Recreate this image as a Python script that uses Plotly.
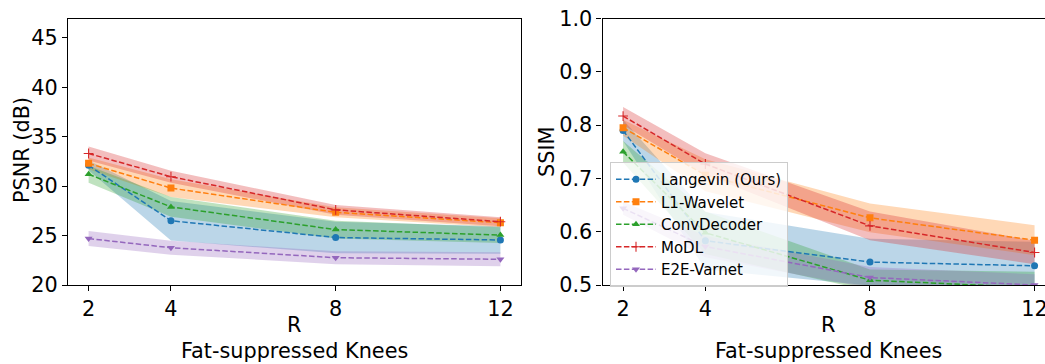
import plotly.graph_objects as go

R = [2, 4, 8, 12]
methods = ["Langevin (Ours)", "L1-Wavelet", "ConvDecoder", "MoDL", "E2E-Varnet"]
colors = ["31,119,180", "255,127,14", "44,160,44", "214,39,40", "148,103,189"]
symbols = ["circle", "square", "triangle-up", "cross-thin", "triangle-down"]

psnr_mean = {
    "Langevin (Ours)": [32.1, 26.5, 24.8, 24.55],
    "L1-Wavelet": [32.3, 29.8, 27.35, 26.3],
    "ConvDecoder": [31.2, 27.9, 25.6, 25.05],
    "MoDL": [33.3, 30.95, 27.6, 26.4],
    "E2E-Varnet": [24.7, 23.77, 22.76, 22.6],
}
psnr_std = {
    "Langevin (Ours)": [0.5, 2.0, 1.6, 1.4],
    "L1-Wavelet": [0.6, 0.9, 0.5, 0.45],
    "ConvDecoder": [0.85, 1.0, 0.9, 0.8],
    "MoDL": [0.7, 0.6, 0.5, 0.45],
    "E2E-Varnet": [0.75, 0.7, 0.65, 0.7],
}
ssim_mean = {
    "Langevin (Ours)": [0.79, 0.583, 0.543, 0.536],
    "L1-Wavelet": [0.795, 0.706, 0.626, 0.584],
    "ConvDecoder": [0.75, 0.598, 0.509, 0.495],
    "MoDL": [0.817, 0.727, 0.611, 0.561],
    "E2E-Varnet": [0.644, 0.572, 0.514, 0.5],
}
ssim_std = {
    "Langevin (Ours)": [0.02, 0.054, 0.044, 0.045],
    "L1-Wavelet": [0.015, 0.03, 0.027, 0.028],
    "ConvDecoder": [0.02, 0.04, 0.02, 0.03],
    "MoDL": [0.017, 0.02, 0.027, 0.022],
    "E2E-Varnet": [0.012, 0.02, 0.02, 0.02],
}

W, H = 1045, 364
fig = go.Figure()

def add_series(mean, std, xa, ya, show_legend):
    for m, c in zip(methods, colors):
        lo = [a - s for a, s in zip(mean[m], std[m])]
        hi = [a + s for a, s in zip(mean[m], std[m])]
        fig.add_trace(go.Scatter(
            x=R + R[::-1], y=hi + lo[::-1], fill="toself",
            fillcolor=f"rgba({c},0.3)", line=dict(width=0),
            mode="lines", hoverinfo="skip", showlegend=False,
            xaxis=xa, yaxis=ya))
    for m, c, s in zip(methods, colors, symbols):
        fig.add_trace(go.Scatter(
            x=R, y=mean[m], mode="lines+markers", name=m,
            line=dict(color=f"rgb({c})", width=1.5, dash="5.5px,2.4px"),
            marker=dict(symbol=s, size=7, color=f"rgb({c})",
                        line=dict(width=1.1 if s == "cross-thin" else 0, color=f"rgb({c})")),
            showlegend=show_legend, xaxis=xa, yaxis=ya))

add_series(psnr_mean, psnr_std, "x", "y", False)
add_series(ssim_mean, ssim_std, "x2", "y2", True)

font = dict(family="DejaVu Sans", size=20.8, color="black")
ydom = [(H - 285) / H, (H - 18.5) / H]
axis_common = dict(showline=True, linecolor="black", linewidth=1.2, ticks="outside",
                   ticklen=5, tickcolor="black", showgrid=False, zeroline=False,
                   tickfont=font, mirror=True, ticklabeloverflow="allow",
                   automargin=False)

fig.update_layout(
    width=W, height=H, margin=dict(l=0, r=0, t=0, b=0, autoexpand=False),
    paper_bgcolor="white", plot_bgcolor="white", font=font,
    xaxis=dict(domain=[68 / W, 521 / W], range=[1.5, 12.5], tickvals=R,
               anchor="y", **axis_common),
    yaxis=dict(domain=ydom, range=[20, 46.95], tickvals=[20, 25, 30, 35, 40, 45],
               anchor="x", **axis_common),
    xaxis2=dict(domain=[602.5 / W, 1.0], range=[1.5, 1.5 + (1045 - 602.5) / 41.15],
                tickvals=R, anchor="y2", **axis_common),
    yaxis2=dict(domain=ydom, range=[0.5, 1.0], tickvals=[0.5, 0.6, 0.7, 0.8, 0.9, 1.0],
                tickformat=".1f", anchor="x2", **axis_common),
    legend=dict(x=610 / W, y=1 - 162 / H, xanchor="left", yanchor="top",
                bgcolor="rgba(255,255,255,0.8)", bordercolor="#cccccc", borderwidth=1,
                font=dict(family="DejaVu Sans", size=15, color="black"),
                tracegroupgap=0, itemwidth=40),
    showlegend=True,
)

def ann(text, x, y, angle=0):
    fig.add_annotation(text=text, x=x / W, y=1 - y / H, xref="paper", yref="paper",
                       showarrow=False, xanchor="center", yanchor="middle",
                       textangle=angle, font=font)

ann("PSNR (dB)", 22, 150, -90)
ann("SSIM", 547, 152, -90)
ann("R", 294, 325)
ann("Fat-suppressed Knees", 294, 351)
ann("R", 828, 325)
ann("Fat-suppressed Knees", 828, 351)

fig.write_html("out.html")
